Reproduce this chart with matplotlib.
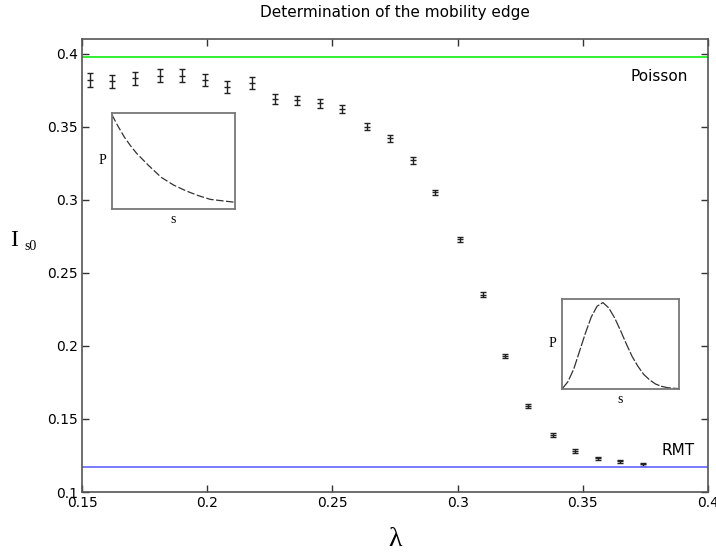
import matplotlib
matplotlib.use('Agg')
import matplotlib.pyplot as plt
import numpy as np

# lambda values and I_s0 with error bars
lam = [0.153, 0.162, 0.171, 0.181, 0.190, 0.199, 0.208, 0.218, 0.227, 0.236,
       0.245, 0.254, 0.264, 0.273, 0.282, 0.291, 0.301, 0.310, 0.319, 0.328,
       0.338, 0.347, 0.356, 0.365, 0.374]
i_s0 = [0.382, 0.381, 0.383, 0.385, 0.385, 0.382, 0.377, 0.380, 0.369, 0.368,
        0.366, 0.362, 0.350, 0.342, 0.327, 0.305, 0.273, 0.235, 0.193, 0.159,
        0.139, 0.128, 0.123, 0.121, 0.119]
err = [0.0047, 0.0043, 0.0043, 0.0043, 0.0043, 0.0040, 0.0040, 0.0040, 0.0033, 0.0030,
       0.0030, 0.0028, 0.0025, 0.0024, 0.0022, 0.0020, 0.0018, 0.0016, 0.0014, 0.0013,
       0.0013, 0.0012, 0.0012, 0.0011, 0.0011]

poisson_level = 0.398
rmt_level = 0.117

# inset curves (normalised to the inset box)
s_poi = [0.0, 0.05, 0.1, 0.15, 0.2, 0.3, 0.4, 0.5, 0.6, 0.7, 0.8, 0.9, 1.0]
p_poi = [0.98, 0.86, 0.75, 0.66, 0.58, 0.45, 0.33, 0.25, 0.19, 0.14, 0.10, 0.085, 0.07]
s_wig = [0.0, 0.05, 0.1, 0.15, 0.2, 0.25, 0.3, 0.35, 0.4, 0.45, 0.5, 0.55, 0.6,
         0.65, 0.7, 0.75, 0.8, 0.85, 0.9, 0.95, 1.0]
p_wig = [0.0, 0.08, 0.22, 0.42, 0.62, 0.80, 0.92, 0.96, 0.90, 0.79, 0.65, 0.50, 0.36,
         0.25, 0.16, 0.10, 0.055, 0.03, 0.015, 0.008, 0.005]

fig = plt.figure(figsize=(7.16, 5.55), dpi=100)
ax = fig.add_axes([82 / 716, 1 - 492 / 555, 626 / 716, 453 / 555])

ax.errorbar(lam, i_s0, yerr=err, fmt='_', color='#222222', ms=4, mew=1.0,
            elinewidth=1.0, capsize=2.5, capthick=1.0)
ax.axhline(poisson_level, color='#22ee22', lw=1.3)
ax.axhline(rmt_level, color='#6f6fff', lw=1.3)

ax.set_xlim(0.15, 0.4)
ax.set_ylim(0.1, 0.41)
ax.set_xticks([0.15, 0.2, 0.25, 0.3, 0.35, 0.4])
ax.set_xticklabels(['0.15', '0.2', '0.25', '0.3', '0.35', '0.4'])
ax.set_yticks([0.1, 0.15, 0.2, 0.25, 0.3, 0.35, 0.4])
ax.set_yticklabels(['0.1', '0.15', '0.2', '0.25', '0.3', '0.35', '0.4'])
ax.tick_params(direction='in', top=True, right=True, length=5, width=1,
               color='#333333', labelsize=10, pad=3)
for sp in ax.spines.values():
    sp.set_color('#555555')
    sp.set_linewidth(1.2)

ax.text(0.392, 0.384, 'Poisson', fontsize=11, ha='right', va='center')
ax.text(0.3945, 0.1285, 'RMT', fontsize=11, ha='right', va='center')

fig.text(395 / 716, 1 - 13 / 555, 'Determination of the mobility edge',
         fontsize=11, ha='center', va='center')
fig.text(395 / 716, 1 - 540 / 555, 'λ', family='Liberation Serif',
         fontsize=20, ha='center', va='center')
fig.text(14 / 716, 1 - 240 / 555, 'I', family='Liberation Serif',
         fontsize=17, ha='center', va='center')
fig.text(24 / 716, 1 - 246 / 555, 's0', family='Liberation Serif',
         fontsize=10, ha='left', va='center')


def inset(box, s, p, dashes):
    x0, y0, x1, y1 = box
    a = fig.add_axes([x0 / 716, 1 - y1 / 555, (x1 - x0) / 716, (y1 - y0) / 555])
    a.plot(s, p, color='#333333', lw=0.9, dashes=dashes)
    a.set_xlim(0, 1)
    a.set_ylim(0, 1)
    a.set_xticks([])
    a.set_yticks([])
    for sp in a.spines.values():
        sp.set_color('#777777')
        sp.set_linewidth(1.3)
    a.text(-0.05, 0.5, 'P', transform=a.transAxes, family='Liberation Serif',
           fontsize=10, ha='right', va='center')
    a.text(0.5, -0.04, 's', transform=a.transAxes, family='Liberation Serif',
           fontsize=10, ha='center', va='top')
    return a


inset((112, 113, 235, 209), s_poi, p_poi, (6, 2))
inset((562, 299, 679, 389), s_wig, p_wig, (8, 1.5))

fig.savefig('out.png', dpi=100)
